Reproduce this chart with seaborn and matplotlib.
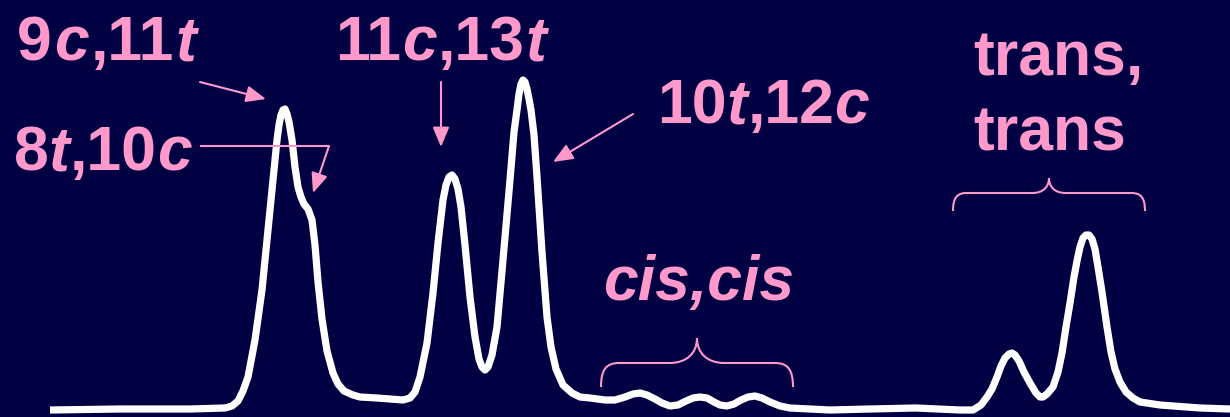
import matplotlib
matplotlib.use("Agg")
import matplotlib.pyplot as plt
from matplotlib.path import Path
from matplotlib.patches import PathPatch
import seaborn as sns

# Chromatogram trace: retention position and detector response
retention = [50, 120, 190, 225, 232, 238, 243, 248, 255, 262,
             267, 272, 277, 279, 281, 283, 285, 287, 289, 292,
             295, 298, 301, 304, 308, 312, 315, 318, 322, 327,
             333, 338, 344, 353, 360, 377, 403, 410, 415, 420,
             427, 433, 438, 443, 446, 449, 452, 455, 458, 461,
             465, 470, 475, 479, 482, 485, 488, 492, 497, 503,
             510, 514, 517, 519, 521, 523, 525, 527, 529, 531,
             534, 537, 542, 547, 551, 556, 563, 572, 580, 590,
             605, 615, 625, 633, 640, 647, 655, 662, 670, 678,
             686, 693, 700, 707, 714, 720, 727, 734, 741, 748,
             755, 762, 770, 780, 790, 830, 870, 916, 960, 973,
             981, 987, 992, 997, 1001, 1005, 1009, 1012, 1015, 1019,
             1024, 1030, 1036, 1040, 1043, 1047, 1053, 1058, 1062, 1066,
             1070, 1074, 1077, 1080, 1083, 1086, 1089, 1092, 1095, 1098,
             1102, 1107, 1111, 1115, 1120, 1126, 1133, 1140, 1160, 1200,
             1230]
response = [7, 8, 8, 9, 11, 16, 26, 40, 77, 127,
            177, 227, 277, 292, 302, 307, 308, 303, 295, 277,
            250, 230, 220, 213, 208, 197, 172, 135, 98, 66,
            44, 33, 26, 22, 20, 19, 17, 19, 25, 40,
            74, 124, 174, 217, 232, 240, 242, 238, 228, 210,
            172, 120, 80, 58, 50, 47, 50, 62, 90, 157,
            237, 285, 307, 323, 333, 337, 335, 328, 318, 307,
            282, 240, 165, 100, 70, 48, 32, 24, 20, 19,
            17, 17, 20, 23, 24, 22, 18, 14, 11, 12,
            16, 19, 20, 19, 15, 12, 11, 13, 17, 20,
            21, 19, 15, 11, 9, 7, 8, 9, 7, 7,
            12, 20, 28, 40, 51, 59, 63, 64, 62, 56,
            45, 34, 24, 20, 20, 23, 30, 45, 64, 90,
            114, 140, 156, 170, 179, 182, 182, 178, 168, 150,
            125, 90, 65, 48, 35, 25, 19, 15, 12, 9,
            8]

# Peak labels: pieces of (text, italic?)
label_9c11t = [("9", False), ("c", True), (",11", False), ("t", True)]
label_8t10c = [("8", False), ("t", True), (",10", False), ("c", True)]
label_11c13t = [("11", False), ("c", True), (",13", False), ("t", True)]
label_10t12c = [("10", False), ("t", True), (",12", False), ("c", True)]
label_ciscis = [("cis,cis", True)]
label_trans1 = [("trans,", False)]
label_trans2 = [("trans", False)]

BG = "#010042"
PINK = "#FF99CC"
W, H = 1230, 417

sns.set_theme(style="white", rc={"axes.facecolor": BG, "figure.facecolor": BG})
plt.rcParams["font.family"] = ["Liberation Sans", "DejaVu Sans"]

fig = plt.figure(figsize=(W / 100, H / 100), dpi=100)
ax = fig.add_axes([0, 0, 1, 1])
ax.set_xlim(0, W)
ax.set_ylim(0, H)
ax.set_axis_off()

sns.lineplot(x=retention, y=response, ax=ax, color="white", linewidth=5.2,
             estimator=None, sort=False, solid_joinstyle="round",
             solid_capstyle="butt")

fig.canvas.draw()
renderer = fig.canvas.get_renderer()


def rich_text(x, y_top_down, parts, size=45, gap=0.0):
    """Draw bold text made of upright and italic pieces, left to right."""
    cx = x
    y = H - y_top_down
    for s, italic in parts:
        t = ax.text(cx, y, s, fontsize=size, fontweight="bold",
                    fontstyle="italic" if italic else "normal",
                    color=PINK, ha="left", va="baseline")
        bb = t.get_window_extent(renderer)
        cx += bb.width + gap


rich_text(17, 60, label_9c11t, gap=2)
rich_text(14, 170, label_8t10c)
rich_text(335, 60, label_11c13t, gap=1)
rich_text(657, 123, label_10t12c)
rich_text(603, 300, label_ciscis)
rich_text(973, 75, label_trans1)
rich_text(973, 150, label_trans2)

arrow_kw = dict(arrowstyle="-|>,head_length=0.6,head_width=0.25",
                color=PINK, lw=1.5, mutation_scale=20,
                shrinkA=0, shrinkB=0)


def arrow(x0, y0, x1, y1):
    ax.annotate("", xy=(x1, H - y1), xytext=(x0, H - y0), arrowprops=arrow_kw)


arrow(200, 82, 266, 99)
ax.plot([200, 329], [H - 146, H - 146], color=PINK, lw=1.5,
        solid_capstyle="butt")
arrow(329, 146, 313, 193)
arrow(441, 82, 441, 147)
arrow(633, 114, 553, 162)


def brace(x0, x1, y_end, y_bar, y_tip):
    xm = (x0 + x1) / 2
    r = y_end - y_bar
    tipr = y_bar - y_tip
    pts = [
        (x0, y_end),
        (x0, y_bar + r * 0.3), (x0 + r * 0.2, y_bar), (x0 + r * 0.75, y_bar),
        (xm - tipr * 1.1, y_bar),
        (xm - tipr * 0.4, y_bar), (xm, y_bar - tipr * 0.4), (xm, y_tip),
        (xm, y_bar - tipr * 0.4), (xm + tipr * 0.4, y_bar), (xm + tipr * 1.1, y_bar),
        (x1 - r * 0.75, y_bar),
        (x1 - r * 0.2, y_bar), (x1, y_bar + r * 0.3), (x1, y_end),
    ]
    codes = [Path.MOVETO,
             Path.CURVE4, Path.CURVE4, Path.CURVE4,
             Path.LINETO,
             Path.CURVE4, Path.CURVE4, Path.CURVE4,
             Path.CURVE4, Path.CURVE4, Path.CURVE4,
             Path.LINETO,
             Path.CURVE4, Path.CURVE4, Path.CURVE4]
    verts = [(px, H - py) for px, py in pts]
    ax.add_patch(PathPatch(Path(verts, codes), facecolor="none",
                           edgecolor=PINK, lw=1.5))


brace(601, 793, 387, 363, 338)
brace(953, 1145, 211, 193, 178)

fig.savefig("out.png", dpi=100, facecolor=BG)
